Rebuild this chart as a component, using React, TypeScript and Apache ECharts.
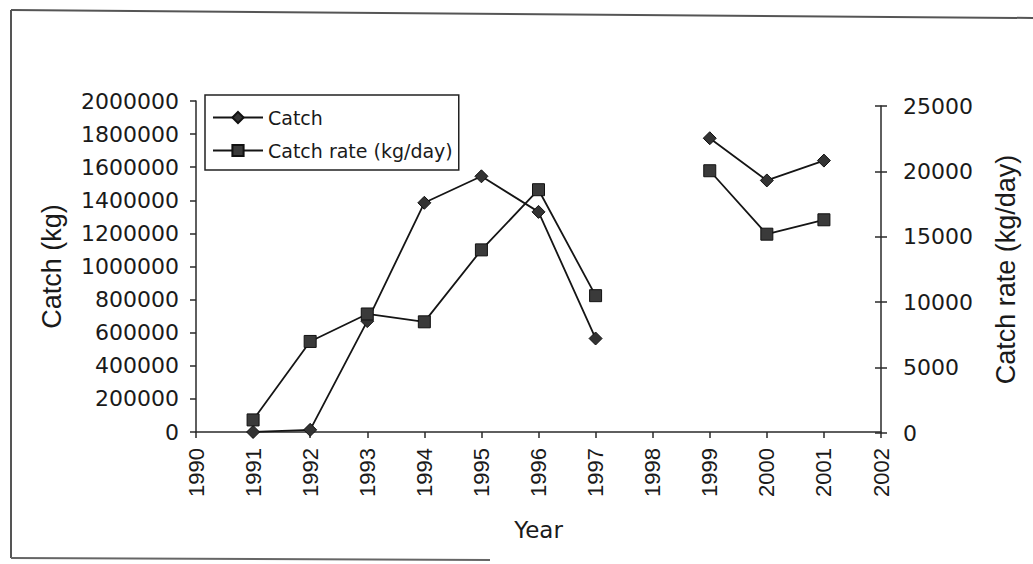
import React, { useEffect, useRef } from "react";
import * as echarts from "echarts";

// Data
const years = [1991, 1992, 1993, 1994, 1995, 1996, 1997, 1998, 1999, 2000, 2001];
const catchKg: (number | null)[] = [0, 13000, 670000, 1385000, 1545000, 1330000, 565000, null, 1775000, 1520000, 1640000];
const catchRate: (number | null)[] = [1000, 7000, 9100, 8500, 14000, 18600, 10500, null, 20050, 15200, 16300];

const seriesNames = ["Catch", "Catch rate (kg/day)"];
const axisTitles = { x: "Year", left: "Catch (kg)", right: "Catch rate (kg/day)" };
const xRange = { min: 1990, max: 2002, interval: 1 };
const leftRange = { min: 0, max: 2000000, interval: 200000 };
const rightRange = { min: 0, max: 25000, interval: 5000 };

const H_FONT = "DejaVu Sans";
const V_FONT = "Liberation Sans";
const INK = "#1a1a1a";

export default function App() {
  const ref = useRef<HTMLDivElement>(null);

  useEffect(() => {
    if (!ref.current) return;
    const chart = echarts.init(ref.current, null, { renderer: "svg" });

    const toPairs = (vals: (number | null)[]) =>
      years.map((y, i) => [y, vals[i] === null ? "-" : vals[i]]);

    const plain = (v: number) => String(v);
    const axisLine = { show: true, lineStyle: { color: "#2a2a2a", width: 1.5 } };
    const tickStyle = { color: "#2a2a2a", width: 1.5 };

    const option: any = {
      animation: false,
      backgroundColor: "#ffffff",
      grid: [
        { left: 196, right: 152, top: 101, bottom: 132 },
        { left: 196, right: 152, top: 106, bottom: 131 },
      ],
      xAxis: [
        {
          type: "value",
          gridIndex: 0,
          min: xRange.min,
          max: xRange.max,
          interval: xRange.interval,
          axisLine,
          axisTick: { show: true, inside: false, length: 6, lineStyle: tickStyle },
          splitLine: { show: false },
          axisLabel: {
            rotate: 90,
            margin: 16,
            fontFamily: V_FONT,
            fontSize: 22,
            color: INK,
            formatter: plain,
          },
          name: axisTitles.x,
          nameLocation: "middle",
          nameGap: 86,
          nameTextStyle: { fontFamily: H_FONT, fontSize: 23, color: INK },
        },
        {
          type: "value",
          gridIndex: 1,
          min: xRange.min,
          max: xRange.max,
          interval: xRange.interval,
          show: false,
        },
      ],
      yAxis: [
        {
          type: "value",
          gridIndex: 0,
          position: "left",
          min: leftRange.min,
          max: leftRange.max,
          interval: leftRange.interval,
          axisLine,
          axisTick: { show: true, inside: false, length: 6, lineStyle: tickStyle },
          splitLine: { show: false },
          axisLabel: { margin: 17, fontFamily: H_FONT, fontSize: 22, color: INK, formatter: plain },
          name: axisTitles.left,
          nameLocation: "middle",
          nameRotate: 90,
          nameGap: 131,
          nameTextStyle: { fontFamily: V_FONT, fontSize: 27, color: INK },
        },
        {
          type: "value",
          gridIndex: 1,
          position: "right",
          min: rightRange.min,
          max: rightRange.max,
          interval: rightRange.interval,
          axisLine,
          axisTick: { show: true, inside: false, length: 6, lineStyle: tickStyle },
          splitLine: { show: false },
          axisLabel: { margin: 22, fontFamily: H_FONT, fontSize: 22, color: INK, formatter: plain },
          name: axisTitles.right,
          nameLocation: "middle",
          nameRotate: 90,
          nameGap: 111,
          nameTextStyle: { fontFamily: V_FONT, fontSize: 27, color: INK },
        },
        {
          type: "value",
          gridIndex: 1,
          position: "right",
          min: rightRange.min,
          max: rightRange.max,
          interval: rightRange.interval,
          axisLine: { show: false },
          axisTick: { show: true, inside: true, length: 6, lineStyle: tickStyle },
          axisLabel: { show: false },
          splitLine: { show: false },
        },
      ],
      legend: {
        left: 205,
        top: 95,
        orient: "vertical",
        padding: [13, 6, 10, 7],
        itemGap: 14,
        itemWidth: 50,
        itemHeight: 14,
        borderColor: "#222",
        borderWidth: 1.5,
        backgroundColor: "#fff",
        textStyle: { fontFamily: H_FONT, fontSize: 19, color: INK },
        data: seriesNames,
      },
      series: [
        {
          name: seriesNames[0],
          type: "line",
          xAxisIndex: 0,
          yAxisIndex: 0,
          data: toPairs(catchKg),
          connectNulls: false,
          symbol: "diamond",
          symbolSize: 13,
          lineStyle: { color: "#151515", width: 1.8 },
          itemStyle: { color: "#333", borderColor: "#111", borderWidth: 1 },
        },
        {
          name: seriesNames[1],
          type: "line",
          xAxisIndex: 1,
          yAxisIndex: 1,
          data: toPairs(catchRate),
          connectNulls: false,
          symbol: "rect",
          symbolSize: 12,
          lineStyle: { color: "#151515", width: 1.8 },
          itemStyle: { color: "#3a3a3a", borderColor: "#111", borderWidth: 1 },
        },
      ],
      graphic: [
        { type: "line", shape: { x1: 11, y1: 10, x2: 1033, y2: 18 }, style: { stroke: "#555", lineWidth: 2 } },
        { type: "line", shape: { x1: 11, y1: 10, x2: 11, y2: 558 }, style: { stroke: "#555", lineWidth: 2 } },
        { type: "line", shape: { x1: 11, y1: 558, x2: 490, y2: 560 }, style: { stroke: "#666", lineWidth: 2 } },
      ],
    };

    chart.setOption(option);
    return () => chart.dispose();
  }, []);

  return (
    <div
      ref={ref}
      style={{ position: "fixed", left: 0, top: 0, width: 1033, height: 564, background: "#fff" }}
    />
  );
}
